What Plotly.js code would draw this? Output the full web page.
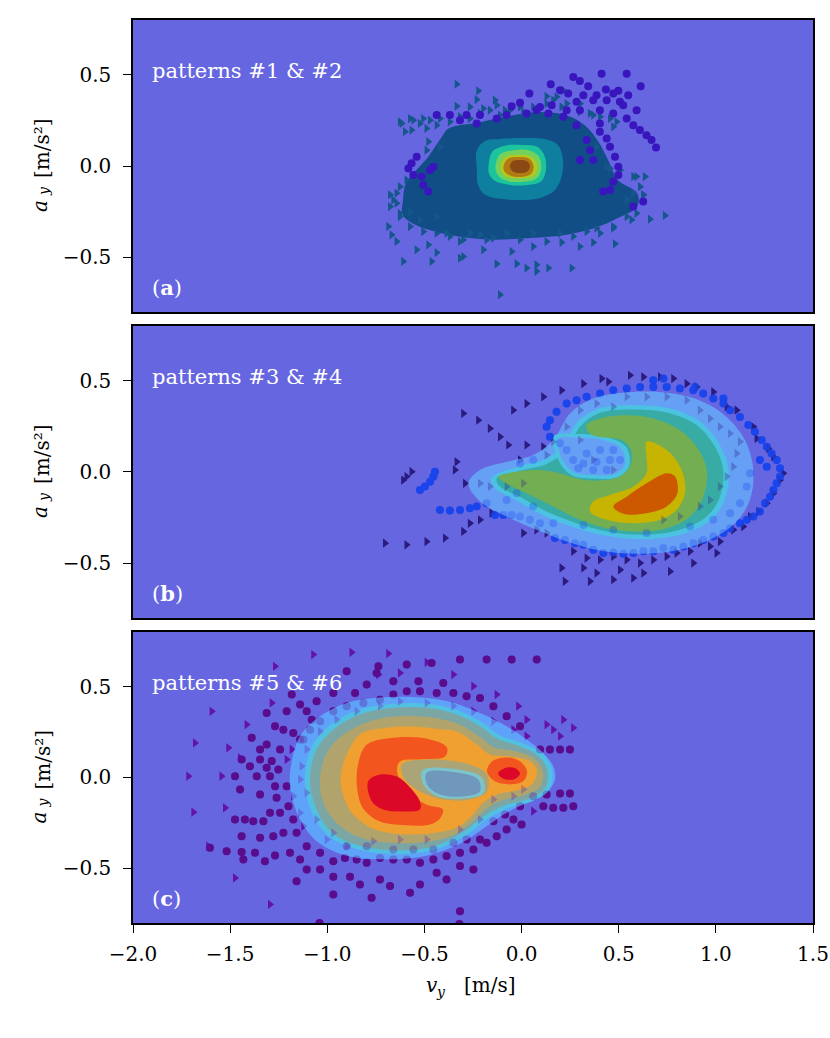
<!DOCTYPE html>
<html><head><meta charset="utf-8">
<script src="https://cdn.plot.ly/plotly-3.0.1.min.js"></script>
<style>html,body{margin:0;padding:0;background:#fff}#chart{width:830px;height:1038px}</style>
</head><body><div id="chart"></div>
<script>
// ---------------- DATA ----------------
const xTicks = [-2.0,-1.5,-1.0,-0.5,0.0,0.5,1.0,1.5];
const yTicks = [-0.5,0.0,0.5];
const panelTags = ['a','b','c'];
const panelTitles = ['patterns #1 &amp; #2','patterns #3 &amp; #4','patterns #5 &amp; #6'];

// panel (a) scatter: circles and triangles
const a_circles = [[0.412,0.506],[0.541,0.506],[0.266,0.488],[0.300,0.466],[0.150,0.448],[0.343,0.437],[0.613,0.437],[0.434,0.419],[0.498,0.412],[0.040,0.397],[0.240,0.397],[0.318,0.388],[0.386,0.388],[0.549,0.388],[0.472,0.397],[0.198,0.415],[0.283,0.352],[0.369,0.361],[0.438,0.361],[0.506,0.352],[-0.008,0.346],[-0.051,0.328],[0.095,0.324],[0.155,0.333],[0.232,0.306],[0.300,0.306],[0.403,0.306],[0.472,0.288],[0.541,0.260],[0.575,0.224],[0.609,0.197],[0.643,0.169],[0.669,0.142],[0.692,0.102],[0.403,0.188],[0.438,0.151],[0.455,0.106],[0.481,0.051],[0.498,-0.004],[0.498,-0.049],[0.472,-0.086],[0.420,-0.140],[0.369,0.033],[0.352,0.087],[0.300,0.033],[0.335,0.142],[0.403,0.233],[0.283,0.224],[0.215,0.270],[0.138,0.288],[0.077,0.306],[0.026,0.288],[-0.077,0.279],[-0.128,0.261],[-0.214,0.279],[-0.283,0.279],[-0.369,0.279],[-0.437,0.279],[-0.317,0.251],[-0.231,0.233],[-0.540,0.051],[-0.566,0.015],[-0.583,-0.013],[-0.557,-0.049],[-0.514,-0.058],[-0.471,-0.022],[-0.454,-0.004],[-0.506,-0.104],[-0.480,-0.140],[0.626,-0.195],[0.455,-0.131],[0.575,-0.222],[0.523,0.333],[0.592,0.306]];
const a_triangles = [[-0.334,0.448],[-0.223,0.412],[-0.231,0.364],[-0.137,0.361],[-0.128,0.333],[-0.334,0.328],[-0.266,0.324],[-0.197,0.315],[-0.086,0.306],[-0.008,0.324],[0.129,0.382],[0.215,0.415],[0.163,0.361],[0.206,0.324],[0.300,0.297],[0.369,0.279],[0.489,0.242],[-0.617,0.233],[-0.557,0.251],[-0.506,0.260],[-0.600,0.188],[-0.566,0.197],[-0.489,0.206],[-0.437,0.224],[-0.480,0.133],[-0.420,0.106],[-0.489,0.087],[0.455,-0.013],[0.592,-0.058],[0.635,-0.058],[-0.677,-0.158],[-0.643,-0.204],[-0.686,-0.331],[-0.669,-0.377],[-0.643,-0.413],[-0.540,-0.459],[-0.480,-0.432],[-0.437,-0.474],[-0.609,-0.523],[-0.463,-0.523],[-0.317,-0.505],[-0.300,-0.496],[-0.197,-0.459],[-0.051,-0.468],[-0.128,-0.536],[-0.025,-0.536],[0.026,-0.559],[0.077,-0.541],[0.138,-0.559],[0.077,-0.577],[0.258,-0.559],[0.060,-0.441],[0.206,-0.419],[0.300,-0.441],[0.369,-0.419],[0.481,-0.426],[0.566,-0.295],[0.661,-0.291],[0.738,-0.271],[0.626,-0.158],[0.472,-0.341],[0.386,-0.341],[-0.111,-0.705],[-0.180,-0.404],[-0.317,-0.413],[-0.386,-0.368],[-0.266,-0.368],[-0.574,-0.250],[-0.626,-0.259],[-0.523,-0.295],[-0.437,-0.277],
  [-0.626,0.242],[-0.574,0.260],[-0.523,0.233],[-0.471,0.251],[-0.420,0.260],[-0.369,0.242],[-0.317,0.270],[-0.266,0.260],[-0.214,0.288],[-0.163,0.306],[-0.111,0.279],[-0.060,0.306],[0.009,0.297],[0.060,0.324],[0.129,0.342],[0.180,0.379],[0.232,0.342],[0.301,0.342],[0.352,0.288],[0.404,0.270],[0.455,0.260],[0.472,0.215],[0.386,0.106],[0.438,-0.004],[0.507,-0.022],[0.575,-0.058],[0.610,-0.113],[0.627,-0.158],[0.575,-0.149],[0.541,-0.186],[-0.626,-0.277],[-0.574,-0.332],[-0.506,-0.359],[-0.437,-0.368],[-0.369,-0.386],[-0.300,-0.404],[-0.214,-0.377],[-0.146,-0.395],[-0.077,-0.368],[-0.008,-0.404],[0.060,-0.368],[0.129,-0.414],[0.198,-0.368],[0.266,-0.386],[0.335,-0.359],[0.404,-0.368],[0.472,-0.332],[0.541,-0.277],[0.592,-0.259],[-0.660,-0.186],[-0.677,-0.222],[-0.643,-0.149],[-0.626,-0.113],[-0.592,-0.076]];
// panel (a) density levels (outer -> inner), outlines
const a_dense = [[-0.610,-0.186],[-0.595,-0.095],[-0.480,0.051],[-0.410,0.160],[-0.376,0.205],[-0.214,0.240],[-0.043,0.278],[0.095,0.296],[0.232,0.278],[0.325,0.223],[0.393,0.137],[0.445,0.033],[0.496,-0.077],[0.595,-0.149],[0.595,-0.222],[0.496,-0.285],[0.376,-0.340],[0.232,-0.376],[0.043,-0.394],[-0.163,-0.403],[-0.376,-0.376],[-0.547,-0.322],[-0.612,-0.267]];
const a_lvl1 = [[-0.230,0.087],[-0.188,0.137],[-0.111,0.148],[-0.008,0.153],[0.120,0.148],[0.187,0.115],[0.213,0.033],[0.208,-0.049],[0.172,-0.131],[0.095,-0.175],[-0.008,-0.186],[-0.111,-0.180],[-0.188,-0.158],[-0.224,-0.104],[-0.230,-0.022]];
const a_lvl2 = [[-0.170,0.000],[-0.150,0.080],[-0.080,0.113],[0.000,0.115],[0.080,0.105],[0.120,0.050],[0.124,-0.030],[0.100,-0.085],[0.030,-0.104],[-0.060,-0.104],[-0.140,-0.080],[-0.168,-0.040]];
const a_lvl3 = [[-0.134,0.000],[-0.110,0.065],[-0.040,0.087],[0.040,0.085],[0.090,0.050],[0.100,-0.020],[0.075,-0.070],[0.000,-0.087],[-0.080,-0.080],[-0.125,-0.045]];
const a_lvl4 = [[-0.108,0.000],[-0.085,0.048],[-0.020,0.060],[0.050,0.050],[0.080,0.000],[0.065,-0.050],[0.000,-0.066],[-0.070,-0.060],[-0.100,-0.035]];
const a_lvl5 = [[-0.093,0.000],[-0.070,0.040],[-0.015,0.049],[0.040,0.040],[0.062,0.000],[0.050,-0.042],[-0.005,-0.060],[-0.060,-0.052],[-0.088,-0.030]];
const a_lvl6 = [[-0.060,0.000],[-0.045,0.027],[-0.005,0.033],[0.030,0.025],[0.043,0.000],[0.030,-0.030],[-0.010,-0.038],[-0.045,-0.030]];

// panel (b) scatter
const b_circles = [[-0.523,-0.098],[-0.497,-0.080],[-0.471,-0.053],[-0.454,-0.025],[-0.446,0.002],[-0.420,-0.208],[-0.369,-0.211],[-0.317,-0.208],[-0.266,-0.199],[-0.231,-0.189],[-0.180,-0.171],[-0.137,-0.235],[-0.094,-0.235],[-0.051,-0.235],[-0.008,-0.244],[0.043,-0.262],[0.095,-0.281],[0.172,-0.362],[0.223,-0.372],[0.275,-0.390],[0.318,-0.399],[0.369,-0.426],[0.421,-0.444],[0.472,-0.441],[0.524,-0.448],[0.575,-0.444],[0.627,-0.435],[0.678,-0.435],[0.730,-0.417],[0.781,-0.426],[0.833,-0.408],[0.884,-0.390],[0.935,-0.372],[0.987,-0.353],[1.039,-0.335],[1.073,-0.308],[1.124,-0.281],[1.159,-0.262],[1.193,-0.244],[1.227,-0.217],[1.253,-0.171],[1.279,-0.135],[1.296,-0.098],[1.313,-0.062],[1.330,-0.025],[1.330,0.020],[1.313,0.066],[1.287,0.102],[1.262,0.138],[1.236,0.175],[1.201,0.220],[1.167,0.257],[1.124,0.302],[1.073,0.339],[1.039,0.375],[0.987,0.403],[0.935,0.430],[0.884,0.448],[0.815,0.457],[0.747,0.466],[0.678,0.466],[0.610,0.466],[0.541,0.457],[0.472,0.448],[0.404,0.430],[0.335,0.412],[0.283,0.393],[0.232,0.375],[0.180,0.330],[0.146,0.284],[0.129,0.248],[0.146,0.193],[0.198,0.157],[0.232,0.120],[0.266,0.066],[0.318,0.047],[0.386,0.056],[0.455,0.066],[0.507,0.066],[0.472,0.120],[0.404,0.120],[0.335,0.102],[0.292,0.020],[0.369,0.011],[0.438,0.011],[1.227,0.066],[1.262,0.029],[1.176,-0.007],[1.159,-0.080],[1.124,-0.171],[1.073,-0.226],[0.987,-0.262],[0.867,-0.299],[0.644,-0.335],[0.472,-0.317],[0.318,-0.290],[0.163,-0.281],[0.060,-0.189],[-0.025,-0.117],[-0.077,-0.153],[-0.008,0.047],[0.060,0.066],[0.678,0.503],[0.730,0.512],[0.893,0.466],[1.039,0.403]];
const b_triangles = [[-0.300,0.321],[-0.223,0.284],[-0.163,0.239],[-0.111,0.193],[-0.068,0.148],[-0.043,0.339],[0.026,0.375],[0.112,0.412],[0.206,0.448],[0.318,0.484],[0.412,0.512],[0.447,0.494],[0.558,0.530],[0.627,0.521],[0.713,0.521],[0.781,0.512],[0.850,0.484],[0.901,0.466],[0.987,0.439],[1.056,0.357],[1.107,0.339],[1.193,0.248],[1.210,0.184],[1.270,0.129],[1.296,0.084],[1.347,-0.007],[1.330,-0.044],[1.296,-0.117],[1.262,-0.171],[1.219,-0.217],[1.176,-0.244],[1.141,-0.299],[1.090,-0.317],[1.021,-0.381],[0.970,-0.408],[0.918,-0.390],[0.867,-0.435],[0.798,-0.444],[0.747,-0.463],[0.678,-0.481],[0.610,-0.499],[0.541,-0.481],[0.472,-0.463],[0.404,-0.481],[0.335,-0.472],[0.266,-0.435],[0.206,-0.526],[0.318,-0.526],[0.386,-0.554],[0.507,-0.536],[0.627,-0.554],[0.764,-0.545],[0.223,-0.599],[0.352,-0.599],[0.472,-0.590],[0.575,-0.581],[0.884,-0.499],[1.004,-0.444],[-0.703,-0.390],[-0.592,-0.399],[-0.489,-0.381],[-0.394,-0.362],[-0.300,-0.326],[-0.214,-0.262],[-0.154,-0.226],[-0.266,-0.281],[-0.334,0.056],[-0.343,0.011],[-0.566,0.002],[-0.592,-0.025],[-0.609,-0.044],[-0.291,-0.062],[-0.214,-0.062],[-0.163,-0.080],[-0.077,-0.080],[0.009,-0.062],[0.009,-0.335],[0.077,-0.317],[0.129,-0.335],[0.112,0.138],[0.163,0.166],[0.129,0.093],[0.026,0.148],[-0.008,0.066],[0.301,0.339],[0.386,0.375],[0.472,0.357],[0.541,0.412],[0.644,0.412],[0.747,0.412],[0.850,0.393],[0.918,0.339],[0.970,0.293],[1.021,0.248],[1.073,0.211],[1.124,0.166],[1.107,0.102],[1.090,0.029],[1.056,-0.025],[1.021,-0.080],[0.970,-0.153],[0.918,-0.189],[0.815,-0.244],[0.730,-0.262],[0.472,0.011],[0.369,0.066],[0.232,0.248],[0.301,0.175]];
// panel (b) density levels
const b_lvl1 = [[-0.274,-0.062],[-0.214,0.011],[-0.077,0.056],[0.060,0.093],[0.163,0.175],[0.249,0.321],[0.369,0.403],[0.575,0.439],[0.781,0.430],[0.935,0.384],[1.055,0.302],[1.150,0.175],[1.193,0.011],[1.175,-0.153],[1.107,-0.271],[0.987,-0.362],[0.815,-0.426],[0.609,-0.448],[0.403,-0.430],[0.232,-0.381],[0.077,-0.317],[-0.077,-0.244],[-0.214,-0.162]];
const b_lvl2 = [[-0.155,-0.035],[-0.015,0.030],[0.115,0.068],[0.212,0.140],[0.285,0.270],[0.390,0.345],[0.578,0.366],[0.775,0.345],[0.920,0.275],[1.020,0.150],[1.065,0.011],[1.046,-0.150],[0.975,-0.262],[0.830,-0.340],[0.630,-0.368],[0.435,-0.350],[0.270,-0.303],[0.110,-0.237],[-0.030,-0.152],[-0.135,-0.092]];
const b_lvl3 = [[-0.128,-0.035],[-0.008,0.007],[0.129,0.044],[0.232,0.120],[0.301,0.248],[0.395,0.321],[0.575,0.342],[0.764,0.321],[0.901,0.257],[0.995,0.138],[1.038,0.011],[1.021,-0.135],[0.953,-0.244],[0.815,-0.317],[0.626,-0.344],[0.438,-0.326],[0.283,-0.281],[0.129,-0.217],[-0.008,-0.135],[-0.111,-0.080]];
const b_hole2 = [[0.167,0.197],[0.283,0.208],[0.429,0.193],[0.537,0.138],[0.554,0.033],[0.493,-0.029],[0.369,-0.036],[0.258,-0.018],[0.194,0.056]];
const b_hole1 = [[0.189,0.184],[0.283,0.189],[0.421,0.175],[0.515,0.129],[0.532,0.038],[0.481,-0.011],[0.369,-0.016],[0.266,0.002],[0.211,0.066]];
const b_lvl4 = [[0.335,0.257],[0.403,0.293],[0.541,0.311],[0.678,0.293],[0.815,0.229],[0.901,0.138],[0.953,0.011],[0.935,-0.135],[0.867,-0.244],[0.747,-0.308],[0.592,-0.326],[0.438,-0.308],[0.301,-0.262],[0.163,-0.189],[0.026,-0.117],[-0.094,-0.053],[-0.120,-0.025],[-0.043,-0.002],[0.077,0.011],[0.197,-0.007],[0.301,-0.040],[0.403,-0.047],[0.506,-0.025],[0.561,0.038],[0.561,0.124],[0.515,0.175],[0.438,0.189],[0.378,0.197],[0.343,0.220]];
const b_lvl5 = [[0.643,0.166],[0.747,0.120],[0.824,0.011],[0.841,-0.117],[0.798,-0.208],[0.712,-0.262],[0.575,-0.281],[0.438,-0.262],[0.352,-0.217],[0.369,-0.162],[0.455,-0.126],[0.575,-0.080],[0.643,-0.007],[0.643,0.084]];
const b_lvl6 = [[0.472,-0.189],[0.541,-0.135],[0.643,-0.062],[0.747,-0.007],[0.790,-0.025],[0.802,-0.117],[0.747,-0.189],[0.643,-0.226],[0.524,-0.229]];

// panel (c) scatter
const c_circles = [[-0.317,0.648],[-0.180,0.648],[-0.051,0.648],[0.078,0.648],[-0.591,0.621],[-0.463,0.630],[-0.737,0.611],[-0.900,0.584],[-0.746,0.575],[-0.660,0.529],[-0.531,0.529],[-0.403,0.520],[-0.797,0.511],[-0.857,0.465],[-0.969,0.465],[-1.055,0.419],[-1.140,0.401],[-1.183,0.456],[-1.209,0.364],[-1.106,0.364],[-1.080,0.318],[-1.312,0.355],[-1.269,0.282],[-1.226,0.263],[-1.175,0.245],[-1.123,0.209],[-1.389,0.218],[-1.346,0.154],[-1.312,0.181],[-1.243,0.154],[-1.286,0.090],[-1.346,0.099],[-1.441,0.099],[-1.398,0.062],[-1.312,0.053],[-1.252,0.044],[-1.475,0.007],[-1.363,0.007],[-1.295,0.007],[-1.449,-0.066],[-1.346,-0.094],[-1.269,-0.048],[-1.261,-0.112],[-1.209,-0.048],[-1.475,-0.231],[-1.424,-0.231],[-1.381,-0.240],[-1.329,-0.240],[-1.295,-0.194],[-1.243,-0.194],[-1.200,-0.158],[-1.175,-0.231],[-1.441,-0.323],[-1.346,-0.332],[-1.278,-0.323],[-1.226,-0.304],[-1.158,-0.304],[-1.604,-0.387],[-1.518,-0.405],[-1.441,-0.410],[-1.372,-0.414],[-1.321,-0.460],[-1.269,-0.429],[-1.192,-0.414],[-1.140,-0.451],[-1.106,-0.506],[-1.037,-0.506],[-0.969,-0.460],[-0.909,-0.442],[-0.849,-0.451],[-0.797,-0.469],[-0.729,-0.442],[-0.660,-0.451],[-0.591,-0.451],[-0.523,-0.469],[-0.454,-0.451],[-0.386,-0.432],[-0.317,-0.414],[-0.248,-0.396],[-0.180,-0.359],[-0.128,-0.323],[-0.077,-0.286],[-0.042,-0.231],[0.000,-0.259],[-0.085,-0.204],[-0.145,-0.240],[-0.214,-0.341],[-0.317,-0.487],[-0.248,-0.506],[-0.437,-0.524],[-0.386,-0.561],[-0.523,-0.588],[-0.574,-0.634],[-0.677,-0.597],[-0.729,-0.561],[-0.832,-0.588],[-0.883,-0.546],[-0.969,-0.546],[-0.969,-0.643],[-0.772,-0.661],[-1.158,-0.570],[-1.037,-0.414],[-1.106,-0.378],[-0.900,-0.378],[-0.797,-0.378],[-0.660,-0.396],[-0.557,-0.396],[-0.454,-0.396],[-0.351,-0.359],[-0.283,-0.341],[-0.077,0.337],[-0.008,0.282],[-0.145,0.392],[-0.214,0.437],[-0.283,0.447],[-0.351,0.465],[-0.437,0.465],[-0.523,0.474],[-0.591,0.474],[-0.660,0.456],[-0.729,0.428],[-0.814,0.410],[-0.900,0.392],[-0.969,0.364],[-1.037,0.309],[-1.089,0.263],[-1.140,0.209],[0.095,0.154],[0.146,0.154],[0.198,0.154],[0.249,0.154],[0.112,-0.158],[0.163,-0.167],[0.215,-0.167],[0.266,-0.158],[-0.008,-0.158],[0.060,-0.103],[0.129,-0.094],[0.198,-0.088],[0.249,-0.088],[-0.317,-0.735],[-1.432,-0.451],[-1.040,-0.800],[-0.320,-0.805]];
const c_triangles = [[-1.072,0.676],[-0.875,0.688],[-0.686,0.681],[-1.269,0.611],[-0.737,0.566],[-0.626,0.575],[-0.488,0.633],[-0.351,0.566],[-0.248,0.502],[-0.128,0.456],[-0.017,0.392],[0.026,0.318],[0.129,0.291],[0.215,0.318],[0.266,0.273],[0.163,0.263],[-1.595,0.364],[-1.286,0.410],[-1.415,0.291],[-1.681,0.190],[-1.509,0.163],[-1.449,0.108],[-1.715,0.007],[-1.544,0.007],[-1.689,-0.191],[-1.526,-0.167],[-1.612,-0.378],[-1.475,-0.552],[-1.295,-0.698],[-1.183,0.154],[-1.209,0.099],[-1.140,-0.011],[-1.175,-0.103],[-1.140,-0.194],[-1.123,-0.268],[-1.003,-0.341],[-0.900,-0.378],[-0.763,-0.350],[-0.626,-0.341],[-0.488,-0.341],[-0.317,-0.286],[-0.214,-0.231],[-0.145,-0.121],[-0.042,-0.103],[0.009,-0.066],[0.026,0.227],[-0.042,0.263],[-0.145,0.309],[-0.248,0.364],[-0.351,0.392],[-0.488,0.410],[-0.626,0.419],[-0.729,0.392],[-0.849,0.364],[-0.952,0.318],[-1.037,0.254],[-1.106,0.154],[-1.132,0.062],[-1.106,-0.084],[-1.055,-0.231],[-0.969,-0.304],[0.060,-0.185],[0.198,0.227]];
// panel (c) density levels
const c_lvl1 = [[-1.192,0.025],[-1.140,0.227],[-1.037,0.337],[-0.900,0.410],[-0.729,0.440],[-0.557,0.442],[-0.386,0.420],[-0.214,0.355],[-0.077,0.282],[0.026,0.209],[0.112,0.135],[0.163,0.062],[0.172,-0.011],[0.129,-0.084],[0.026,-0.139],[-0.077,-0.194],[-0.180,-0.268],[-0.317,-0.365],[-0.488,-0.430],[-0.694,-0.450],[-0.900,-0.430],[-1.055,-0.350],[-1.140,-0.231],[-1.183,-0.103]];
const c_lvl2 = [[-1.115,-0.011],[-1.080,0.170],[-0.990,0.285],[-0.845,0.370],[-0.665,0.405],[-0.485,0.405],[-0.325,0.368],[-0.200,0.300],[-0.112,0.232],[0.005,0.188],[0.115,0.124],[0.158,0.035],[0.142,-0.068],[0.056,-0.130],[-0.068,-0.168],[-0.180,-0.232],[-0.292,-0.322],[-0.452,-0.400],[-0.630,-0.420],[-0.825,-0.400],[-0.990,-0.325],[-1.082,-0.186]];
const c_lvl3 = [[-1.089,-0.011],[-1.055,0.154],[-0.969,0.263],[-0.832,0.346],[-0.660,0.383],[-0.488,0.383],[-0.334,0.346],[-0.214,0.282],[-0.128,0.215],[-0.008,0.170],[0.095,0.110],[0.135,0.030],[0.120,-0.060],[0.040,-0.115],[-0.080,-0.150],[-0.190,-0.210],[-0.300,-0.300],[-0.454,-0.380],[-0.626,-0.400],[-0.814,-0.380],[-0.969,-0.310],[-1.055,-0.176]];
const c_lvl4 = [[-1.037,-0.011],[-1.003,0.135],[-0.917,0.236],[-0.780,0.309],[-0.626,0.337],[-0.454,0.328],[-0.317,0.290],[-0.214,0.222],[-0.145,0.165],[-0.042,0.145],[0.070,0.100],[0.110,0.030],[0.095,-0.050],[0.020,-0.095],[-0.100,-0.125],[-0.180,-0.170],[-0.260,-0.250],[-0.360,-0.320],[-0.500,-0.355],[-0.660,-0.360],[-0.832,-0.330],[-0.952,-0.250],[-1.020,-0.140]];
const c_lvl5 = [[-0.930,-0.040],[-0.919,0.071],[-0.832,0.236],[-0.700,0.272],[-0.559,0.280],[-0.420,0.265],[-0.333,0.253],[-0.230,0.181],[-0.163,0.126],[-0.060,0.115],[0.040,0.090],[0.079,0.040],[0.060,-0.030],[0.000,-0.065],[-0.127,-0.093],[-0.200,-0.140],[-0.250,-0.203],[-0.333,-0.275],[-0.450,-0.305],[-0.559,-0.313],[-0.680,-0.305],[-0.780,-0.275],[-0.870,-0.200],[-0.899,-0.148]];
const c_hole4 = [[-0.616,0.071],[-0.471,0.099],[-0.266,0.071],[-0.178,0.016],[-0.178,-0.077],[-0.266,-0.121],[-0.405,-0.121],[-0.523,-0.077],[-0.600,-0.011]];
const c_hole3 = [[-0.510,0.040],[-0.330,0.045],[-0.205,0.000],[-0.195,-0.085],[-0.300,-0.115],[-0.430,-0.105],[-0.505,-0.040]];
const c_hole2 = [[-0.487,0.027],[-0.333,0.027],[-0.224,-0.011],[-0.214,-0.077],[-0.302,-0.104],[-0.420,-0.093],[-0.487,-0.038]];
const c_lvl6 = [[-0.796,0.181],[-0.641,0.220],[-0.471,0.209],[-0.384,0.165],[-0.394,0.115],[-0.520,0.100],[-0.626,0.088],[-0.641,0.033],[-0.590,-0.077],[-0.487,-0.150],[-0.405,-0.176],[-0.420,-0.225],[-0.471,-0.258],[-0.600,-0.262],[-0.729,-0.242],[-0.815,-0.170],[-0.847,-0.055],[-0.840,0.080]];
const c_lvl7 = [[-0.790,-0.022],[-0.729,0.016],[-0.641,0.005],[-0.574,-0.055],[-0.523,-0.132],[-0.523,-0.176],[-0.610,-0.187],[-0.713,-0.176],[-0.770,-0.132]];
const c_bulb6 = [[-0.178,0.035],[-0.150,0.090],[-0.077,0.110],[-0.010,0.090],[0.028,0.035],[0.010,-0.020],[-0.060,-0.038],[-0.140,-0.020]];
const c_bulb7 = [[-0.121,0.022],[-0.090,0.050],[-0.035,0.052],[-0.008,0.022],[-0.035,-0.008],[-0.090,-0.008]];

// ---------------- STYLE & BUILD ----------------
const FONT = 'DejaVu Serif';
const axes = [['x','y'],['x2','y2'],['x3','y3']];
const traces = [];
function poly(p, color, ax){
  const xs = p.map(d=>d[0]).concat([p[0][0]]);
  const ys = p.map(d=>d[1]).concat([p[0][1]]);
  traces.push({type:'scatter', mode:'lines', x:xs, y:ys, xaxis:ax[0], yaxis:ax[1], fill:'toself', fillcolor:color,
    line:{width:0, shape:'spline', smoothing:1, color:color}, hoverinfo:'skip', showlegend:false});
}
function dots(p, symbol, color, ax, op){
  traces.push({type:'scatter', mode:'markers', x:p.map(d=>d[0]), y:p.map(d=>d[1]), xaxis:ax[0], yaxis:ax[1],
    marker:{symbol:symbol, size:8, color:color, opacity:op, line:{width:0}}, hoverinfo:'skip', showlegend:false});
}
// (a)
poly(a_dense, '#124e86', axes[0]);
dots(a_triangles, 'triangle-right', '#16578b', axes[0], 1);
dots(a_circles, 'circle', '#3815bd', axes[0], 1);
[[a_lvl1,'#0f7fa0'],[a_lvl2,'#1cc49e'],[a_lvl3,'#74d25c'],[a_lvl4,'#b6c81c'],[a_lvl5,'#b27a14'],[a_lvl6,'#8a4812']].forEach(l=>poly(l[0], l[1], axes[0]));
// (b)
dots(b_triangles, 'triangle-right', '#2c1c7e', axes[1], 1);
dots(b_circles, 'circle', '#1a46ec', axes[1], 1);
[[b_lvl1,'#66a0f5'],[b_lvl2,'#4cc2e2'],[b_lvl3,'#38aca4'],[b_hole2,'#4cc2e2'],[b_hole1,'#66a0f5'],[b_lvl4,'#74ae52'],[b_lvl5,'#c6b400'],[b_lvl6,'#cc5800']].forEach(l=>poly(l[0], l[1], axes[1]));
dots(b_triangles, 'triangle-right', '#2c1c7e', axes[1], 0.3);
dots(b_circles, 'circle', '#1a46ec', axes[1], 0.3);
// (c)
dots(c_triangles, 'triangle-right', '#6414ac', axes[2], 1);
dots(c_circles, 'circle', '#5a0c8c', axes[2], 1);
[[c_lvl1,'#5ea2fa'],[c_lvl2,'#52c0e0'],[c_lvl3,'#7ca6a4'],[c_lvl4,'#b0a46c'],[c_lvl5,'#f0a030'],[c_hole4,'#aaa476'],[c_hole3,'#7cc4cc'],[c_hole2,'#7098bc'],[c_lvl6,'#f2561e'],[c_lvl7,'#dc0828'],[c_bulb6,'#f2561e'],[c_bulb7,'#dc0828']].forEach(l=>poly(l[0], l[1], axes[2]));
dots(c_triangles, 'triangle-right', '#6414ac', axes[2], 0.3);
dots(c_circles, 'circle', '#5a0c8c', axes[2], 0.3);

const domains = [[0.6766,1.0],[0.3378,0.6611],[0.0,0.3223]];
const tickFont = {family:FONT, size:20, color:'#000'};
const layout = {width:830, height:1038, margin:{l:133, r:17, t:20, b:115},
  paper_bgcolor:'#ffffff', plot_bgcolor:'#6666e0', showlegend:false, annotations:[]};
function note(x, y, text, size, angle){
  layout.annotations.push({xref:'paper', yref:'paper', x:x, y:y, xanchor:'center', yanchor:'middle',
    textangle:angle, text:text, showarrow:false, font:{family:FONT, size:size, color:'#000'}});
}
const ids = ['', '2', '3'];
ids.forEach((id, i)=>{
  const last = i === 2;
  layout['xaxis'+id] = {domain:[0,1], anchor:'y'+id, range:[-2,1.5], showgrid:false, zeroline:false,
    showline:true, mirror:true, linecolor:'#000', linewidth:1.5,
    ticks: last ? 'outside' : '', showticklabels:last, tickvals:xTicks, tickformat:'.1f',
    ticklen:8, tickwidth:1.4, tickcolor:'#000', tickfont:tickFont, ticklabelstandoff:4, fixedrange:true};
  layout['yaxis'+id] = {domain:domains[i], anchor:'x'+id, range:[-0.8,0.8], showgrid:false, zeroline:false,
    showline:true, mirror:true, linecolor:'#000', linewidth:1.5,
    ticks:'outside', tickvals:yTicks, tickformat:'.1f', ticklen:8, tickwidth:1.4, tickcolor:'#000',
    tickfont:tickFont, ticklabelstandoff:8, fixedrange:true};
  layout.annotations.push({xref:'x'+id, yref:'y'+id, x:-1.915, y:0.519, xanchor:'left', yanchor:'middle',
    text:panelTitles[i], showarrow:false, font:{family:FONT, size:21, color:'#ffffff'}});
  layout.annotations.push({xref:'x'+id, yref:'y'+id, x:-1.915, y:-0.667, xanchor:'left', yanchor:'middle',
    text:'(<b>'+panelTags[i]+'</b>)', showarrow:false, font:{family:FONT, size:21, color:'#ffffff'}});
  // y-axis title  a_y [m/s²]  (subscript placed as its own smaller text)
  const c = (domains[i][0]+domains[i][1])/2;
  note(-0.1368, c - 0.0443, '<i>a</i>', 20, -90);
  note(-0.1309, c - 0.0277, '<i>y</i>', 14, -90);
  note(-0.1338, c + 0.0199, '[m/s²]', 20, -90);
});
// x-axis title  v_y [m/s]
note(0.4397, -0.0687, '<i>v</i>', 20, 0);
note(0.4535, -0.0764, '<i>y</i>', 14, 0);
note(0.5250, -0.0687, '[m/s]', 20, 0);

Plotly.newPlot('chart', traces, layout, {displayModeBar:false});
</script></body></html>
